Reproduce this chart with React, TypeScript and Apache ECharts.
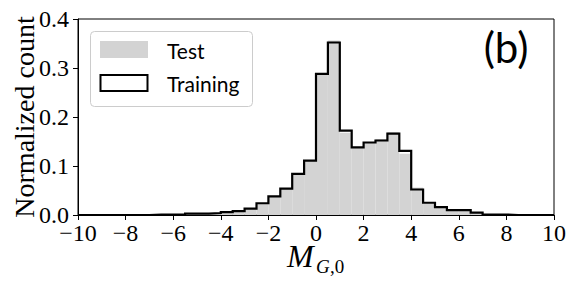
import React, { useEffect, useRef } from 'react';
import * as echarts from 'echarts';

const binEdges = [
  -10, -9.5, -9, -8.5, -8, -7.5, -7, -6.5, -6, -5.5,
  -5, -4.5, -4, -3.5, -3, -2.5, -2, -1.5, -1, -0.5,
  0, 0.5, 1, 1.5, 2, 2.5, 3, 3.5, 4, 4.5,
  5, 5.5, 6, 6.5, 7, 7.5, 8, 8.5, 9, 9.5, 10,
];

const testCounts = [
  0, 0, 0, 0, 0, 0, 0.001, 0.001, 0.001, 0.002,
  0.003, 0.004, 0.005, 0.007, 0.012, 0.023, 0.037, 0.053, 0.083, 0.110,
  0.287, 0.356, 0.168, 0.137, 0.147, 0.155, 0.169, 0.125, 0.056, 0.024,
  0.016, 0.011, 0.011, 0.004, 0.001, 0.001, 0, 0, 0, 0,
];

const trainingCounts = [
  0, 0, 0, 0, 0, 0, 0.001, 0.001, 0.001, 0.003,
  0.003, 0.004, 0.006, 0.008, 0.013, 0.024, 0.038, 0.054, 0.084, 0.111,
  0.288, 0.352, 0.172, 0.138, 0.148, 0.152, 0.166, 0.131, 0.052, 0.025,
  0.016, 0.010, 0.010, 0.005, 0.001, 0.001, 0, 0, 0, 0,
];

const seriesNames = ['Test', 'Training'];
const yLabel = 'Normalized count';
const panelLabel = '(b)';

const SERIF = '"Liberation Serif", "DejaVu Serif", serif';
const SANS = 'Lato, "Noto Sans", sans-serif';

export default function App() {
  const ref = useRef<HTMLDivElement>(null);

  useEffect(() => {
    if (!ref.current) return;
    const chart = echarts.init(ref.current, undefined, { renderer: 'svg' });

    const barData = testCounts.map((v, i) => [binEdges[i], binEdges[i + 1], v]);
    const linePts: number[][] = [[binEdges[0], 0]];
    trainingCounts.forEach((v, i) => {
      linePts.push([binEdges[i], v]);
      linePts.push([binEdges[i + 1], v]);
    });
    linePts.push([binEdges[binEdges.length - 1], 0]);

    const fmtX = (v: number) => (v < 0 ? '\u2212' + Math.abs(v) : String(v));

    chart.setOption({
      animation: false,
      grid: {
        left: 78,
        top: 19,
        right: 22,
        bottom: 73,
        show: true,
        borderColor: '#000',
        borderWidth: 1,
        backgroundColor: 'transparent',
        outerBoundsMode: 'none',
      },
      xAxis: {
        type: 'value',
        min: -10,
        max: 10,
        interval: 2,
        axisLine: { show: true, onZero: false, lineStyle: { color: '#000', width: 1 } },
        axisTick: { show: true, inside: false, length: 5, lineStyle: { color: '#000' } },
        axisLabel: {
          formatter: fmtX,
          color: '#000',
          fontFamily: SERIF,
          fontSize: 24,
          margin: 6,
        },
        splitLine: { show: false },
      },
      yAxis: {
        type: 'value',
        min: 0,
        max: 0.4,
        interval: 0.1,
        name: yLabel,
        nameLocation: 'middle',
        nameGap: 40,
        nameMoveOverlap: false,
        nameTextStyle: { fontFamily: SERIF, fontSize: 28, color: '#000' },
        axisLine: { show: true, onZero: false, lineStyle: { color: '#000', width: 1 } },
        axisTick: { show: true, inside: false, length: 5, lineStyle: { color: '#000' } },
        axisLabel: {
          formatter: (v: number) => v.toFixed(1),
          color: '#000',
          fontFamily: SERIF,
          fontSize: 24,
          margin: 9,
        },
        splitLine: { show: false },
      },
      series: [
        {
          name: seriesNames[0],
          type: 'custom',
          data: barData,
          encode: { x: [0, 1], y: 2 },
          renderItem: (params: any, api: any) => {
            const p0 = api.coord([api.value(0), api.value(2)]);
            const p1 = api.coord([api.value(1), 0]);
            return {
              type: 'rect',
              shape: { x: p0[0], y: p0[1], width: p1[0] - p0[0], height: p1[1] - p0[1] },
              style: { fill: '#d3d3d3', stroke: 'none' },
            };
          },
          z: 1,
        },
        {
          name: seriesNames[1],
          type: 'line',
          data: linePts,
          showSymbol: false,
          symbol: 'none',
          lineStyle: { color: '#000', width: 2.2, join: 'miter' },
          z: 3,
        },
      ],
      graphic: [
        {
          type: 'rect',
          shape: { x: 90.5, y: 31.5, width: 162, height: 75, r: 4 },
          style: { fill: 'rgba(255,255,255,0.8)', stroke: '#cccccc', lineWidth: 1 },
          z: 10,
        },
        {
          type: 'rect',
          shape: { x: 100, y: 41, width: 48, height: 17 },
          style: { fill: '#d3d3d3' },
          z: 11,
        },
        {
          type: 'rect',
          shape: { x: 100.5, y: 75, width: 47, height: 16 },
          style: { fill: '#fff', stroke: '#000', lineWidth: 2 },
          z: 11,
        },
        {
          type: 'text',
          x: 167,
          y: 50,
          style: { text: seriesNames[0], fill: '#000', font: `21px ${SANS}`, verticalAlign: 'middle', align: 'left' },
          z: 11,
        },
        {
          type: 'text',
          x: 167,
          y: 83,
          style: { text: seriesNames[1], fill: '#000', font: `21px ${SANS}`, verticalAlign: 'middle', align: 'left' },
          z: 11,
        },
        {
          type: 'text',
          x: 506,
          y: 47,
          style: { text: panelLabel, fill: '#000', font: `42px ${SANS}`, verticalAlign: 'middle', align: 'center' },
          z: 11,
        },
        {
          type: 'text',
          x: 287,
          y: 256,
          style: { text: 'M', fill: '#000', font: `italic 32px ${SERIF}`, verticalAlign: 'middle', align: 'left' },
          z: 11,
        },
        {
          type: 'text',
          x: 316,
          y: 266,
          style: { text: 'G', fill: '#000', font: `italic 19px ${SERIF}`, verticalAlign: 'middle', align: 'left' },
          z: 11,
        },
        {
          type: 'text',
          x: 330,
          y: 266,
          style: { text: ',0', fill: '#000', font: `19px ${SERIF}`, verticalAlign: 'middle', align: 'left' },
          z: 11,
        },
      ],
    });

    return () => chart.dispose();
  }, []);

  return (
    <div
      ref={ref}
      style={{ position: 'fixed', left: 0, top: 0, width: 576, height: 288, background: '#fff' }}
    />
  );
}
